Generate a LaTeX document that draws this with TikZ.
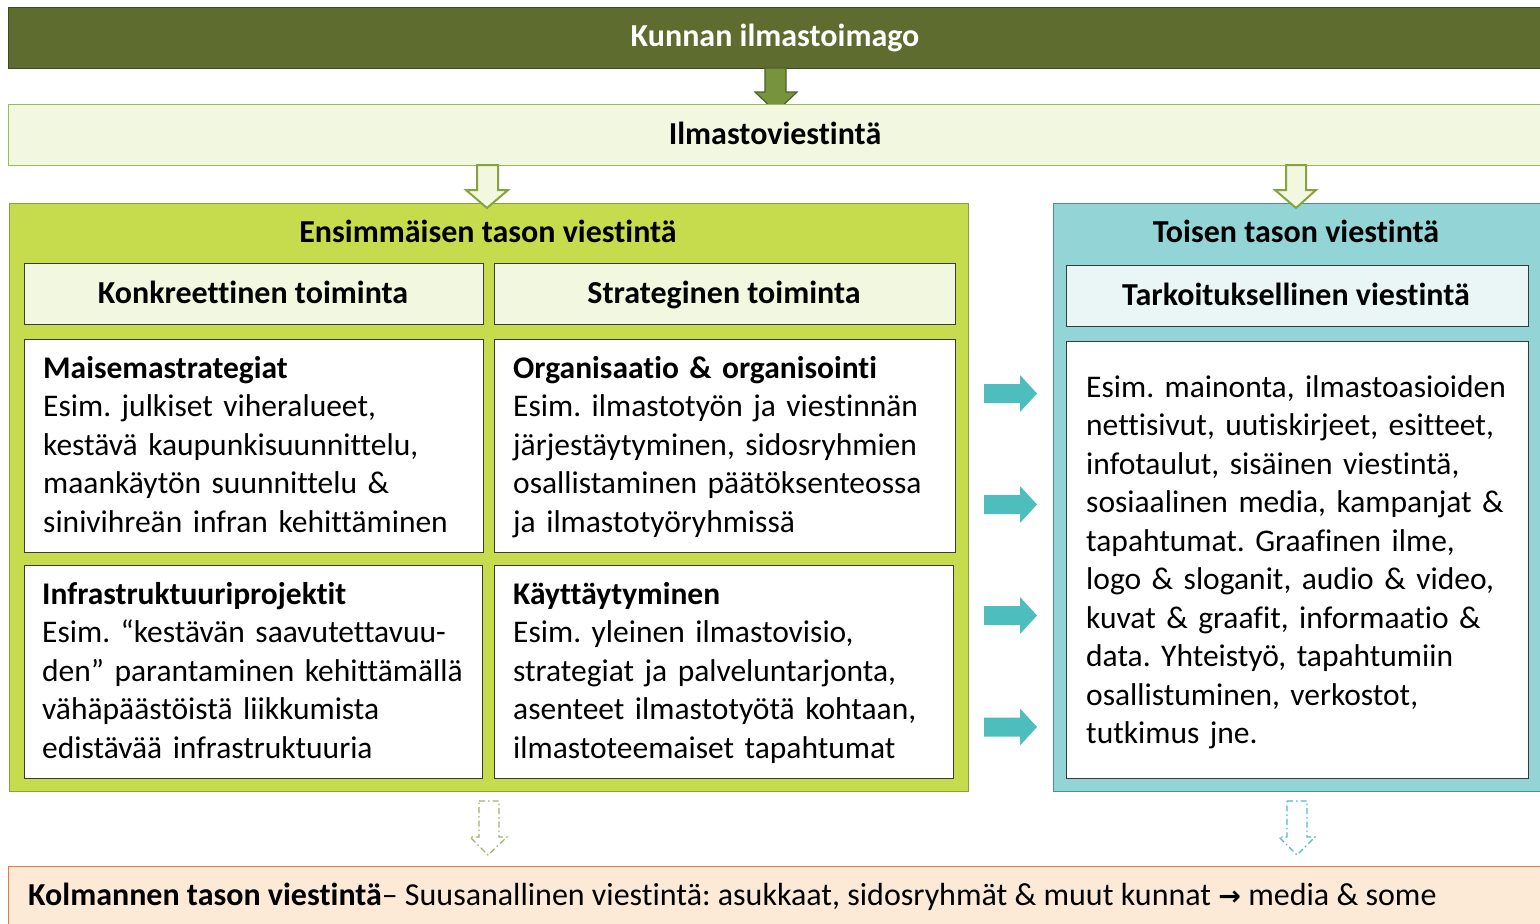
\documentclass[tikz,border=0pt]{standalone}
\usepackage{fontspec}
\setmainfont{Carlito}[Ligatures={NoCommon}]
\newfontfamily\dejavu{DejaVu Sans}
\frenchspacing
\definecolor{topfill}{HTML}{5E6C30}
\definecolor{topline}{HTML}{3F4A1F}
\definecolor{arrowfill}{HTML}{77933C}
\definecolor{arrowline}{HTML}{4F6228}
\definecolor{lightgreen}{HTML}{F2F8DF}
\definecolor{midgreen}{HTML}{9BBB59}
\definecolor{hollowline}{HTML}{86A340}
\definecolor{limefill}{HTML}{C6DC4C}
\definecolor{limeline}{HTML}{86A33A}
\definecolor{tealfill}{HTML}{93D5D6}
\definecolor{tealline}{HTML}{4A8F94}
\definecolor{paleteal}{HTML}{EAF6F6}
\definecolor{tealarrow}{HTML}{4DBDBD}
\definecolor{peach}{HTML}{FDEAD6}
\definecolor{orangeline}{HTML}{E57B3A}
\definecolor{boxline}{HTML}{3A3A3A}
\tikzset{
  box/.style={draw, line width=1.2pt, inner sep=0pt, anchor=north west},
  bodytext/.style={anchor=base west, inner sep=0pt, text width=#1, align=left,
    font=\fontsize{31.5}{38.5}\selectfont},
  headtext/.style={anchor=base, inner sep=0pt, font=\fontsize{32}{38}\selectfont\bfseries},
}
\begin{document}
\begin{tikzpicture}[x=1pt,y=-1pt]
\useasboundingbox (0,0) rectangle (1540,924);
\fill[white] (0,0) rectangle (1540,924);
% top bar
\node[box, fill=topfill, draw=topline, minimum width=1540pt, minimum height=61pt] (topbar) at (8,7) {};
\node[headtext, text=white] (toptxt) at (775,46) {Kunnan ilmastoimago};
% arrow top -> ilmasto
\draw[fill=arrowfill, draw=arrowline, line width=1.2pt, line join=miter]
  (765,68) -- (786,68) -- (786,92) -- (797,92) -- (776,112) -- (755,92) -- (765,92) -- cycle;
% Ilmastoviestinta bar
\node[box, fill=lightgreen, draw=midgreen, minimum width=1540pt, minimum height=61pt] (ilmbar) at (8,104) {};
\node[headtext] (ilmtxt) at (775,144) {Ilmastoviestintä};
% big left box
\node[box, fill=limefill, draw=limeline, minimum width=959pt, minimum height=588pt] (leftbox) at (9,203) {};
\node[headtext] (lefthead) at (488,242) {Ensimmäisen tason viestintä};
% big right box
\node[box, fill=tealfill, draw=tealline, minimum width=490pt, minimum height=588pt] (rightbox) at (1053,203) {};
\node[headtext] (righthead) at (1296,242) {Toisen tason viestintä};
% hollow arrows
\draw[fill=lightgreen, draw=hollowline, line width=2pt, line join=miter]
  (477,165) -- (498,165) -- (498,190) -- (508,190) -- (487,208) -- (466,190) -- (477,190) -- cycle;
\draw[fill=lightgreen, draw=hollowline, line width=2pt, line join=miter]
  (1286,165) -- (1306,165) -- (1306,190) -- (1316,190) -- (1296,208) -- (1275,190) -- (1286,190) -- cycle;
% subheaders
\node[box, fill=lightgreen, draw=boxline, minimum width=459pt, minimum height=61pt] (konk) at (24,263) {};
\node[headtext] (konktxt) at (253,303) {Konkreettinen toiminta};
\node[box, fill=lightgreen, draw=boxline, minimum width=461pt, minimum height=61pt] (strat) at (494,263) {};
\node[headtext] (strattxt) at (724,303) {Strateginen toiminta};
\node[box, fill=paleteal, draw=boxline, minimum width=462pt, minimum height=61pt] (tark) at (1066,265) {};
\node[headtext] (tarktxt) at (1296,305) {Tarkoituksellinen viestintä};
% white boxes
\node[box, fill=white, draw=boxline, minimum width=459pt, minimum height=213pt] (b1) at (24,339) {};
\node[box, fill=white, draw=boxline, minimum width=461pt, minimum height=213pt] (b2) at (494,339) {};
\node[box, fill=white, draw=boxline, minimum width=458pt, minimum height=213pt] (b3) at (24,565) {};
\node[box, fill=white, draw=boxline, minimum width=459pt, minimum height=213pt] (b4) at (494,565) {};
\node[box, fill=white, draw=boxline, minimum width=462pt, minimum height=437pt] (b5) at (1066,341) {};
% texts
\node[bodytext=450pt] (t1) at (43,378) {\textbf{Maisemastrategiat}\\Esim. julkiset viheralueet,\\kestävä kaupunkisuunnittelu,\\maankäytön suunnittelu \&\\sinivihreän infran kehittäminen};
\node[bodytext=450pt] (t2) at (513,378) {\textbf{Organisaatio \& organisointi}\\Esim. ilmastotyön ja viestinnän\\järjestäytyminen, sidosryhmien\\osallistaminen päätöksenteossa\\ja ilmastotyöryhmissä};
\node[bodytext=450pt] (t3) at (42,604) {\textbf{Infrastruktuuriprojektit}\\Esim. “kestävän saavutettavuu-\\den” parantaminen kehittämällä\\vähäpäästöistä liikkumista\\edistävää infrastruktuuria};
\node[bodytext=450pt] (t4) at (513,604) {\textbf{Käyttäytyminen}\\Esim. yleinen ilmastovisio,\\strategiat ja palveluntarjonta,\\asenteet ilmastotyötä kohtaan,\\ilmastoteemaiset tapahtumat};
\node[bodytext=450pt] (t5) at (1086,397) {Esim. mainonta, ilmastoasioiden\\nettisivut, uutiskirjeet, esitteet,\\infotaulut, sisäinen viestintä,\\sosiaalinen media, kampanjat \&\\tapahtumat. Graafinen ilme,\\logo \& sloganit, audio \& video,\\kuvat \& graafit, informaatio \&\\data. Yhteistyö, tapahtumiin\\osallistuminen, verkostot,\\tutkimus jne.};
% teal arrows
\foreach \yy in {393.5,504.5,615.5,727} {
  \fill[tealarrow] (984,\yy-9.5) -- (1020,\yy-9.5) -- (1020,\yy-18.5) -- (1037,\yy) -- (1020,\yy+18.5) -- (1020,\yy+9.5) -- (984,\yy+9.5) -- cycle;
}
% dashed hollow arrows
\draw[draw=hollowline!80, line width=1.2pt, dash pattern=on 6pt off 3pt on 1.5pt off 3pt]
  (479,801) -- (499,801) -- (499,837) -- (507,837) -- (488,855) -- (470,837) -- (479,837) -- cycle;
\draw[draw=tealarrow, line width=1.2pt, dash pattern=on 6pt off 3pt on 1.5pt off 3pt]
  (1287,801) -- (1307,801) -- (1307,837) -- (1315,837) -- (1297,855) -- (1279,837) -- (1287,837) -- cycle;
% bottom bar
\node[box, fill=peach, draw=orangeline, minimum width=1540pt, minimum height=70pt] (botbar) at (8,866) {};
\node[anchor=base west, inner sep=0pt, font=\fontsize{32}{38}\selectfont] (bottxt) at (28,905)
  {\textbf{Kolmannen tason viestintä}– Suusanallinen viestintä: asukkaat, sidosryhmät \& muut kunnat {\dejavu\bfseries\fontsize{27}{30}\selectfont →} media \& some};
\end{tikzpicture}
\end{document}
